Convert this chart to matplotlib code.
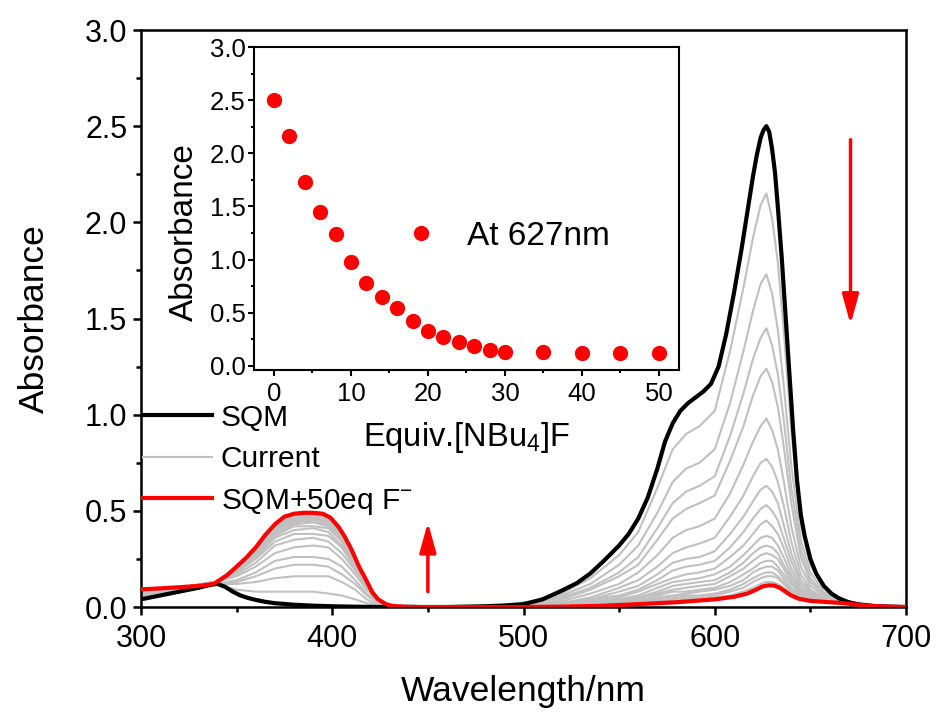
import matplotlib
matplotlib.use("Agg")
import matplotlib.pyplot as plt
from matplotlib.ticker import MultipleLocator, FormatStrFormatter

plt.rcParams['font.family'] = ['Liberation Sans', 'DejaVu Sans']
plt.rcParams['mathtext.fontset'] = 'custom'
plt.rcParams['mathtext.rm'] = 'Liberation Sans'
plt.rcParams['mathtext.it'] = 'Liberation Sans:italic'

# SQM sola (negro)
sqm_wl = [300, 310, 320, 330, 336, 340, 344, 348, 352, 356, 360, 365, 370, 380, 390, 400, 410,
          425, 460, 480, 490, 500, 510, 520, 528, 535, 542, 550, 555, 560, 565, 570, 574, 578,
          582, 586, 590, 594, 598, 602, 606, 610, 614, 617, 620, 622, 624, 625.5, 627, 628.5,
          630, 631.5, 633, 635, 637, 639, 641, 643, 645, 647, 650, 653, 657, 661, 665, 670,
          675, 685, 700]
sqm = [0.04, 0.06, 0.08, 0.10, 0.115, 0.12, 0.105, 0.08, 0.06, 0.047, 0.037, 0.027, 0.02, 0.012,
       0.007, 0.004, 0.002, 0.0, 0.0, 0.004, 0.008, 0.015, 0.04, 0.085, 0.125, 0.175, 0.24, 0.32,
       0.38, 0.46, 0.57, 0.72, 0.86, 0.955, 1.02, 1.06, 1.09, 1.12, 1.16, 1.25, 1.42, 1.63, 1.86,
       2.05, 2.24, 2.35, 2.44, 2.48, 2.50, 2.47, 2.38, 2.26, 2.08, 1.82, 1.52, 1.22, 0.92, 0.66,
       0.48, 0.37, 0.25, 0.175, 0.11, 0.07, 0.045, 0.025, 0.014, 0.004, 0.0]

# SQM + 50 eq F- (rojo)
f50_wl = [300, 310, 320, 330, 338, 345, 350, 355, 360, 365, 370, 375, 380, 385, 390, 395, 399,
          403, 406, 410, 414, 418, 421, 424, 428, 432, 440, 500, 520, 540, 560, 580, 600, 610,
          617, 622, 625, 628, 631, 634, 637, 640, 644, 650, 657, 665, 672, 680, 690, 700]
sqm_f50 = [0.092, 0.097, 0.103, 0.11, 0.12, 0.165, 0.21, 0.256, 0.31, 0.375, 0.43, 0.47, 0.485,
           0.49, 0.49, 0.485, 0.465, 0.42, 0.375, 0.30, 0.21, 0.135, 0.075, 0.04, 0.015, 0.005,
           0.0, 0.0, 0.002, 0.006, 0.015, 0.025, 0.04, 0.053, 0.07, 0.092, 0.107, 0.113, 0.112,
           0.10, 0.08, 0.06, 0.043, 0.032, 0.027, 0.022, 0.015, 0.006, 0.002, 0.0]

# espectros intermedios de la valoracion (gris)
wl = [300, 320, 339, 350, 360, 370, 380, 390, 398, 405, 412, 418, 424, 430, 460, 490, 505,
      520, 535, 550, 560, 570, 578, 585, 592, 600, 608, 615, 620, 624, 627, 630, 633, 636,
      640, 645, 650, 657, 665, 680, 700]
current = [
    [0.05, 0.08, 0.12, 0.09, 0.08, 0.08, 0.08, 0.08, 0.07, 0.06, 0.04, 0.02, 0.01, 0.00, 0.00, 0.01, 0.03, 0.07, 0.15, 0.27, 0.39, 0.62, 0.82, 0.90, 0.94, 1.02, 1.33, 1.66, 1.92, 2.09, 2.15, 2.02, 1.79, 1.45, 0.92, 0.43, 0.22, 0.10, 0.04, 0.01, 0.00],
    [0.06, 0.09, 0.12, 0.12, 0.13, 0.15, 0.16, 0.16, 0.16, 0.13, 0.09, 0.04, 0.01, 0.00, 0.00, 0.01, 0.02, 0.06, 0.12, 0.22, 0.32, 0.49, 0.65, 0.72, 0.75, 0.82, 1.06, 1.33, 1.54, 1.68, 1.73, 1.63, 1.44, 1.16, 0.74, 0.35, 0.18, 0.08, 0.04, 0.01, 0.00],
    [0.06, 0.09, 0.12, 0.13, 0.16, 0.20, 0.22, 0.22, 0.21, 0.17, 0.12, 0.06, 0.02, 0.00, 0.00, 0.00, 0.02, 0.05, 0.10, 0.18, 0.26, 0.41, 0.54, 0.60, 0.63, 0.68, 0.89, 1.11, 1.29, 1.40, 1.45, 1.36, 1.21, 0.98, 0.62, 0.30, 0.15, 0.07, 0.03, 0.01, 0.00],
    [0.07, 0.09, 0.12, 0.14, 0.18, 0.24, 0.26, 0.26, 0.25, 0.21, 0.14, 0.07, 0.02, 0.00, 0.00, 0.00, 0.01, 0.04, 0.09, 0.16, 0.22, 0.35, 0.46, 0.51, 0.54, 0.58, 0.76, 0.94, 1.10, 1.20, 1.24, 1.17, 1.04, 0.84, 0.54, 0.26, 0.13, 0.07, 0.03, 0.01, 0.00],
    [0.07, 0.10, 0.13, 0.16, 0.21, 0.28, 0.31, 0.32, 0.31, 0.25, 0.17, 0.09, 0.03, 0.01, 0.00, 0.00, 0.01, 0.03, 0.07, 0.12, 0.18, 0.27, 0.36, 0.40, 0.42, 0.46, 0.59, 0.74, 0.86, 0.94, 0.98, 0.92, 0.82, 0.66, 0.42, 0.21, 0.11, 0.06, 0.03, 0.01, 0.00],
    [0.08, 0.10, 0.13, 0.17, 0.23, 0.32, 0.35, 0.36, 0.34, 0.28, 0.19, 0.10, 0.03, 0.01, 0.00, 0.00, 0.01, 0.02, 0.05, 0.10, 0.14, 0.21, 0.28, 0.31, 0.33, 0.36, 0.47, 0.58, 0.68, 0.75, 0.77, 0.73, 0.65, 0.53, 0.34, 0.17, 0.09, 0.05, 0.03, 0.01, 0.00],
    [0.08, 0.10, 0.13, 0.18, 0.25, 0.34, 0.38, 0.38, 0.37, 0.31, 0.20, 0.11, 0.04, 0.01, 0.00, 0.00, 0.01, 0.02, 0.04, 0.08, 0.11, 0.17, 0.23, 0.25, 0.26, 0.29, 0.38, 0.47, 0.55, 0.61, 0.63, 0.60, 0.54, 0.43, 0.28, 0.14, 0.08, 0.04, 0.03, 0.01, 0.00],
    [0.08, 0.10, 0.13, 0.19, 0.26, 0.36, 0.40, 0.41, 0.39, 0.32, 0.22, 0.11, 0.04, 0.01, 0.00, 0.00, 0.01, 0.02, 0.04, 0.06, 0.09, 0.14, 0.19, 0.21, 0.22, 0.24, 0.31, 0.39, 0.46, 0.51, 0.53, 0.50, 0.45, 0.36, 0.24, 0.12, 0.07, 0.04, 0.03, 0.01, 0.00],
    [0.09, 0.10, 0.13, 0.19, 0.27, 0.37, 0.42, 0.42, 0.41, 0.34, 0.22, 0.12, 0.04, 0.01, 0.00, 0.00, 0.00, 0.01, 0.03, 0.05, 0.08, 0.12, 0.15, 0.17, 0.18, 0.20, 0.26, 0.32, 0.38, 0.43, 0.45, 0.42, 0.38, 0.31, 0.20, 0.10, 0.06, 0.04, 0.02, 0.01, 0.00],
    [0.09, 0.10, 0.13, 0.20, 0.28, 0.38, 0.43, 0.44, 0.42, 0.35, 0.23, 0.12, 0.04, 0.01, 0.00, 0.00, 0.00, 0.01, 0.02, 0.04, 0.06, 0.10, 0.13, 0.14, 0.15, 0.17, 0.21, 0.27, 0.32, 0.36, 0.37, 0.36, 0.32, 0.26, 0.17, 0.09, 0.06, 0.04, 0.02, 0.01, 0.00],
    [0.09, 0.10, 0.13, 0.20, 0.29, 0.39, 0.44, 0.45, 0.43, 0.36, 0.24, 0.12, 0.04, 0.01, 0.00, 0.00, 0.00, 0.01, 0.02, 0.04, 0.05, 0.08, 0.11, 0.12, 0.13, 0.14, 0.18, 0.23, 0.28, 0.31, 0.32, 0.31, 0.28, 0.22, 0.15, 0.08, 0.05, 0.03, 0.02, 0.01, 0.00],
    [0.09, 0.10, 0.13, 0.20, 0.29, 0.40, 0.45, 0.46, 0.44, 0.36, 0.24, 0.12, 0.04, 0.01, 0.00, 0.00, 0.00, 0.01, 0.02, 0.03, 0.05, 0.07, 0.09, 0.10, 0.11, 0.12, 0.16, 0.20, 0.24, 0.27, 0.28, 0.27, 0.25, 0.20, 0.13, 0.07, 0.05, 0.03, 0.02, 0.01, 0.00],
    [0.09, 0.10, 0.13, 0.20, 0.30, 0.41, 0.45, 0.46, 0.45, 0.37, 0.25, 0.13, 0.04, 0.01, 0.00, 0.00, 0.00, 0.01, 0.01, 0.03, 0.04, 0.06, 0.08, 0.08, 0.09, 0.10, 0.13, 0.17, 0.20, 0.23, 0.24, 0.24, 0.21, 0.17, 0.12, 0.07, 0.04, 0.03, 0.02, 0.01, 0.00],
    [0.09, 0.10, 0.13, 0.20, 0.30, 0.41, 0.46, 0.47, 0.46, 0.37, 0.25, 0.13, 0.04, 0.01, 0.00, 0.00, 0.00, 0.01, 0.01, 0.02, 0.03, 0.05, 0.06, 0.07, 0.08, 0.09, 0.11, 0.14, 0.18, 0.20, 0.21, 0.21, 0.19, 0.15, 0.10, 0.06, 0.04, 0.03, 0.02, 0.01, 0.00],
    [0.09, 0.10, 0.13, 0.21, 0.30, 0.42, 0.47, 0.48, 0.46, 0.38, 0.25, 0.13, 0.04, 0.01, 0.00, 0.00, 0.00, 0.00, 0.01, 0.02, 0.03, 0.04, 0.05, 0.06, 0.06, 0.07, 0.09, 0.12, 0.15, 0.17, 0.18, 0.18, 0.16, 0.13, 0.09, 0.05, 0.04, 0.03, 0.02, 0.01, 0.00],
    [0.09, 0.10, 0.13, 0.21, 0.30, 0.42, 0.47, 0.48, 0.47, 0.38, 0.25, 0.13, 0.04, 0.01, 0.00, 0.00, 0.00, 0.00, 0.01, 0.02, 0.02, 0.03, 0.04, 0.05, 0.05, 0.06, 0.08, 0.10, 0.13, 0.15, 0.16, 0.16, 0.15, 0.12, 0.08, 0.05, 0.04, 0.03, 0.02, 0.01, 0.00],
    [0.09, 0.10, 0.13, 0.21, 0.31, 0.43, 0.48, 0.49, 0.47, 0.39, 0.26, 0.13, 0.04, 0.01, 0.00, 0.00, 0.00, 0.00, 0.01, 0.01, 0.02, 0.03, 0.03, 0.04, 0.04, 0.05, 0.06, 0.08, 0.10, 0.12, 0.13, 0.13, 0.12, 0.10, 0.07, 0.04, 0.03, 0.03, 0.02, 0.01, 0.00],
]

# inset: absorbancia a 627 nm frente a equivalentes de fluoruro
equiv = [0, 2, 4, 6, 8, 10, 12, 14, 16, 18, 20, 22, 24, 26, 28, 30, 35, 40, 45, 50]
abs_627 = [2.50, 2.16, 1.73, 1.45, 1.24, 0.98, 0.78, 0.65, 0.54, 0.42, 0.33, 0.275, 0.225,
           0.185, 0.15, 0.13, 0.125, 0.12, 0.12, 0.12]

gris = '#c0c0c0'

fig = plt.figure(figsize=(9.37, 7.15), dpi=100)
ax = fig.add_axes([0.1505, 0.151, 0.8164, 0.807])

lineas_gris = []
for c in current:
    lineas_gris += ax.plot(wl, c, color=gris, lw=1.5, zorder=2)
l_sqm, = ax.plot(sqm_wl, sqm, color='black', lw=3, zorder=3)
l_f50, = ax.plot(f50_wl, sqm_f50, color='red', lw=3, zorder=4)

ax.set_xlim(300, 700)
ax.set_ylim(0, 3.0)
ax.xaxis.set_major_locator(MultipleLocator(100))
ax.xaxis.set_minor_locator(MultipleLocator(50))
ax.yaxis.set_major_locator(MultipleLocator(0.5))
ax.yaxis.set_minor_locator(MultipleLocator(0.25))
ax.yaxis.set_major_formatter(FormatStrFormatter('%.1f'))
for s in ax.spines.values():
    s.set_linewidth(1.8)
ax.tick_params(which='major', direction='out', length=6, width=1.8, labelsize=22)
ax.tick_params(which='minor', direction='out', length=3.5, width=1.8)
ax.tick_params(axis='x', which='major', pad=6)
ax.tick_params(axis='y', which='major', pad=4)
ax.set_xlabel('Wavelength/nm', fontsize=25.5, labelpad=15)
ax.set_ylabel('Absorbance', fontsize=25.5, labelpad=24)

ax.legend([l_sqm, lineas_gris[0], l_f50], ['SQM', 'Current', 'SQM+50eq F$^{\\mathregular{-}}$'],
          loc='upper left', bbox_to_anchor=(0.003, 0.352), frameon=False,
          fontsize=21.5, handlelength=2.3, handletextpad=0.3, labelspacing=0.45,
          borderpad=0, borderaxespad=0)

# flechas
ax.annotate('', xy=(671, 1.47), xytext=(671, 2.43),
            arrowprops=dict(arrowstyle='-|>,head_length=0.9,head_width=0.25', color='red',
                            lw=2.5, shrinkA=0, shrinkB=0, mutation_scale=20))
ax.annotate('', xy=(450, 0.44), xytext=(450, 0.08),
            arrowprops=dict(arrowstyle='-|>,head_length=0.9,head_width=0.25', color='red',
                            lw=2.5, shrinkA=0, shrinkB=0, mutation_scale=20))

# inset
ins = fig.add_axes([0.271, 0.4825, 0.4536, 0.4517])
ins.plot(equiv, abs_627, 'o', color='red', ms=10, mec='red', label='At 627nm')
ins.set_xlim(-2.6, 52.6)
ins.set_ylim(-0.04, 3.0)
ins.xaxis.set_major_locator(MultipleLocator(10))
ins.xaxis.set_minor_locator(MultipleLocator(5))
ins.yaxis.set_major_locator(MultipleLocator(0.5))
ins.yaxis.set_minor_locator(MultipleLocator(0.25))
ins.yaxis.set_major_formatter(FormatStrFormatter('%.1f'))
for s in ins.spines.values():
    s.set_linewidth(1.5)
ins.tick_params(which='major', direction='out', length=4.5, width=1.5, labelsize=18.5)
ins.tick_params(which='minor', direction='out', length=2.5, width=1.5)
ins.tick_params(axis='x', which='major', pad=4)
ins.tick_params(axis='y', which='major', pad=1.5)
ins.set_xlabel('Equiv.[NBu$_{\\mathregular{4}}$]F', fontsize=23.5, labelpad=10)
ins.set_ylabel('Absorbance', fontsize=24)
ins.yaxis.set_label_coords(-0.127, 0.428)
ins.legend(loc='center left', bbox_to_anchor=(0.355, 0.413), frameon=False, fontsize=24,
           numpoints=1, handlelength=1.0, handletextpad=0.88, borderpad=0, borderaxespad=0)

fig.savefig('out.png', dpi=100)
